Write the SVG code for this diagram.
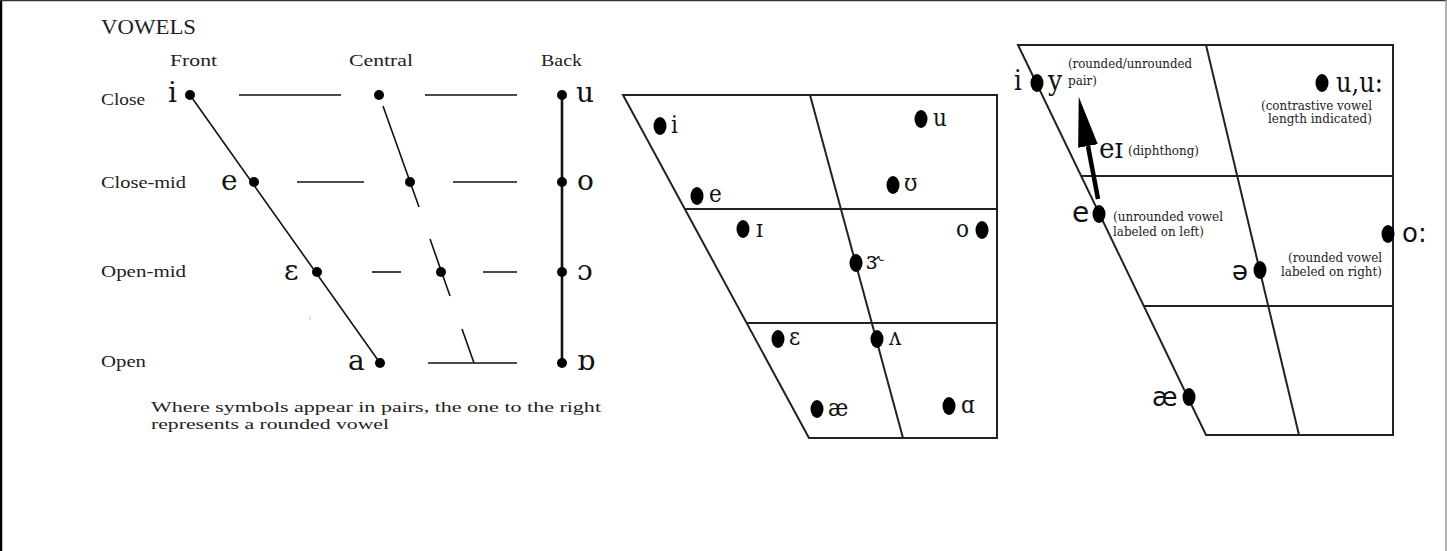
<svg xmlns="http://www.w3.org/2000/svg" width="1447" height="551" viewBox="0 0 1447 551">
<style>
.bg{fill:#fff}
.ln{stroke:#111;stroke-width:1.6;fill:none}
.lnb{stroke:#111;stroke-width:2.6;fill:none}
.tr{stroke:#222;stroke-width:2;fill:none}
.dot{fill:#000}
.lt{font-family:"Liberation Serif",serif;fill:#222}
.ipa{font-family:"DejaVu Serif",serif;font-size:28px;fill:#111}
.mid{font-family:"DejaVu Serif Condensed","DejaVu Serif",serif;font-stretch:condensed;font-size:24px;fill:#111}
.rs{font-family:"DejaVu Serif Condensed","DejaVu Serif",serif;font-stretch:condensed;fill:#111}
.rsans{font-family:"DejaVu Sans",sans-serif;fill:#111}
.note{font-family:"DejaVu Serif Condensed","DejaVu Serif",serif;font-stretch:condensed;font-size:13px;fill:#222}
</style>
<defs>
<marker id="ah" markerUnits="userSpaceOnUse" markerWidth="50" markerHeight="20" refX="0" refY="10" orient="auto">
<path d="M0,0 L50,10 L0,20 Z" fill="#000"/>
</marker>
</defs>
<rect class="bg" x="0" y="0" width="1447" height="551"/>
<g id="frame">
<line x1="1" y1="0" x2="1" y2="551" stroke="#000" stroke-width="2.5"/>
<line x1="0" y1="0.5" x2="1447" y2="0.5" stroke="#333" stroke-width="1.5"/>
<line x1="1446" y1="0" x2="1446" y2="551" stroke="#999" stroke-width="1.5"/>
</g>

<!-- LEFT PANEL -->
<g id="left-titles">
<text class="lt" x="101" y="34" font-size="22" textLength="95" lengthAdjust="spacingAndGlyphs">VOWELS</text>
<text class="lt" x="170" y="66" font-size="17" textLength="47" lengthAdjust="spacingAndGlyphs">Front</text>
<text class="lt" x="349" y="66" font-size="17" textLength="64" lengthAdjust="spacingAndGlyphs">Central</text>
<text class="lt" x="541" y="66" font-size="17" textLength="41" lengthAdjust="spacingAndGlyphs">Back</text>
<text class="lt" x="101" y="105" font-size="16" textLength="44" lengthAdjust="spacingAndGlyphs">Close</text>
<text class="lt" x="101" y="188" font-size="16" textLength="85" lengthAdjust="spacingAndGlyphs">Close-mid</text>
<text class="lt" x="101" y="277" font-size="16" textLength="85" lengthAdjust="spacingAndGlyphs">Open-mid</text>
<text class="lt" x="101" y="367" font-size="16" textLength="45" lengthAdjust="spacingAndGlyphs">Open</text>
<text class="lt" x="151" y="412" font-size="15" textLength="450" lengthAdjust="spacingAndGlyphs">Where symbols appear in pairs, the one to the right</text>
<text class="lt" x="151" y="428.5" font-size="15" textLength="238" lengthAdjust="spacingAndGlyphs">represents a rounded vowel</text>
</g>
<g id="left-connectors">
<line class="ln" x1="190" y1="95" x2="380" y2="363"/>
<line class="ln" x1="383" y1="106" x2="419" y2="207"/>
<line class="ln" x1="430" y1="239" x2="450" y2="296"/>
<line class="ln" x1="462" y1="329" x2="474" y2="363"/>
<line class="lnb" x1="562" y1="95" x2="562" y2="363"/>
<line class="ln" x1="239" y1="95" x2="341" y2="95"/>
<line class="ln" x1="425" y1="95" x2="517" y2="95"/>
<line class="ln" x1="297" y1="182" x2="364" y2="182"/>
<line class="ln" x1="453" y1="182" x2="517" y2="182"/>
<line class="ln" x1="372" y1="272" x2="401" y2="272"/>
<line class="ln" x1="483" y1="272" x2="517" y2="272"/>
<line class="ln" x1="428" y1="363" x2="517" y2="363"/>
<line x1="310" y1="315" x2="310" y2="320" stroke="#ccc" stroke-width="1"/>
</g>
<g id="left-i"><circle class="dot" cx="190" cy="95" r="5"/><text class="ipa" x="168" y="102">i</text></g>
<g id="left-e"><circle class="dot" cx="254" cy="182" r="5"/><text class="ipa" x="221" y="190">e</text></g>
<g id="left-eps"><circle class="dot" cx="317" cy="272" r="5"/><text class="ipa" x="284" y="280">ɛ</text></g>
<g id="left-a"><circle class="dot" cx="380" cy="363" r="5"/><text class="ipa" x="348" y="370">a</text></g>
<g id="left-c1"><circle class="dot" cx="379" cy="95" r="5"/></g>
<g id="left-c2"><circle class="dot" cx="410" cy="182" r="5"/></g>
<g id="left-c3"><circle class="dot" cx="441" cy="272" r="5"/></g>
<g id="left-u"><circle class="dot" cx="562" cy="95" r="5"/><text class="ipa" x="576" y="102">u</text></g>
<g id="left-o"><circle class="dot" cx="562" cy="182" r="5"/><text class="ipa" x="577" y="190">o</text></g>
<g id="left-oo"><circle class="dot" cx="562" cy="272" r="5"/><text class="ipa" x="577" y="280">ɔ</text></g>
<g id="left-ao"><circle class="dot" cx="562" cy="363" r="5"/><text class="ipa" x="577" y="370">ɒ</text></g>

<!-- MIDDLE PANEL -->
<g id="mid-chart">
<polygon class="tr" points="623,95 997,95 997,438 809,438"/>
<line class="tr" x1="685" y1="209" x2="997" y2="209"/>
<line class="tr" x1="747" y1="323" x2="997" y2="323"/>
<line class="tr" x1="810" y1="95" x2="903" y2="438"/>
</g>
<g id="mid-i"><ellipse class="dot" cx="660" cy="126" rx="6.5" ry="9"/><text class="mid" x="671" y="133">i</text></g>
<g id="mid-u"><ellipse class="dot" cx="921" cy="119" rx="6.5" ry="9"/><text class="mid" x="933" y="126">u</text></g>
<g id="mid-e"><ellipse class="dot" cx="697" cy="196" rx="6.5" ry="9"/><text class="mid" x="709" y="202">e</text></g>
<g id="mid-upsilon"><ellipse class="dot" cx="893" cy="185" rx="6.5" ry="9"/><text class="mid" x="904" y="191">ʊ</text></g>
<g id="mid-smallI"><ellipse class="dot" cx="743" cy="229" rx="6.5" ry="9"/><text class="mid" x="756" y="237">ɪ</text></g>
<g id="mid-o"><ellipse class="dot" cx="982" cy="230" rx="6.5" ry="9"/><text class="mid" x="956" y="237">o</text></g>
<g id="mid-er"><ellipse class="dot" cx="856" cy="263" rx="6.5" ry="9"/><text class="mid" x="866" y="269" font-size="17">ɝ</text></g>
<g id="mid-eps"><ellipse class="dot" cx="778" cy="339" rx="6.5" ry="9"/><text class="mid" x="789" y="345">ɛ</text></g>
<g id="mid-wedge"><ellipse class="dot" cx="877" cy="339" rx="6.5" ry="9"/><text class="mid" x="889" y="345" font-size="20">ʌ</text></g>
<g id="mid-ae"><ellipse class="dot" cx="817" cy="409" rx="6.5" ry="9"/><text class="mid" x="828" y="416">æ</text></g>
<g id="mid-alpha"><ellipse class="dot" cx="949" cy="406" rx="6.5" ry="9"/><text class="mid" x="961" y="413">ɑ</text></g>

<!-- RIGHT PANEL -->
<g id="right-chart">
<polygon class="tr" points="1018,45 1393,45 1393,435 1206,435"/>
<line class="tr" x1="1081" y1="176" x2="1393" y2="176"/>
<line class="tr" x1="1144" y1="306" x2="1393" y2="306"/>
<line class="tr" x1="1206" y1="45" x2="1299" y2="435"/>
</g>
<g id="connectors">
<line x1="1098" y1="199" x2="1088" y2="146" stroke="#000" stroke-width="4.5" marker-end="url(#ah)"/>
</g>
<g id="right-iy"><ellipse class="dot" cx="1037" cy="83" rx="6.5" ry="9"/>
<text class="rs" x="1014" y="90" font-size="27">i</text>
<text class="rs" x="1048" y="90" font-size="28">y</text>
<text class="note" x="1068" y="68" textLength="124" lengthAdjust="spacingAndGlyphs">(rounded/unrounded</text>
<text class="note" x="1068" y="85" textLength="29" lengthAdjust="spacingAndGlyphs">pair)</text>
</g>
<g id="right-u"><ellipse class="dot" cx="1322" cy="83" rx="6.5" ry="9"/>
<text class="rs" x="1336" y="92" font-size="27" textLength="47" lengthAdjust="spacingAndGlyphs">u,u:</text>
<text class="note" x="1261" y="110" textLength="111" lengthAdjust="spacingAndGlyphs">(contrastive vowel</text>
<text class="note" x="1268" y="123" textLength="104" lengthAdjust="spacingAndGlyphs">length indicated)</text>
</g>
<g id="right-ei">
<text class="rs" x="1099" y="158" font-size="27" textLength="24" lengthAdjust="spacingAndGlyphs">eɪ</text>
<text class="note" x="1128" y="155" textLength="71" lengthAdjust="spacingAndGlyphs">(diphthong)</text>
</g>
<g id="right-e"><ellipse class="dot" cx="1099" cy="214" rx="6.5" ry="9"/>
<text class="rsans" x="1072" y="222" font-size="28">e</text>
<text class="note" x="1113" y="221" textLength="110" lengthAdjust="spacingAndGlyphs">(unrounded vowel</text>
<text class="note" x="1113" y="236" textLength="91" lengthAdjust="spacingAndGlyphs">labeled on left)</text>
</g>
<g id="right-o"><ellipse class="dot" cx="1388" cy="234" rx="6.5" ry="9"/>
<text class="rsans" x="1402" y="242" font-size="26">o:</text>
</g>
<g id="right-schwa"><ellipse class="dot" cx="1260" cy="270" rx="6.5" ry="9"/>
<text class="rsans" x="1232" y="280" font-size="26">ə</text>
<text class="note" x="1288" y="262" textLength="94" lengthAdjust="spacingAndGlyphs">(rounded vowel</text>
<text class="note" x="1281" y="276" textLength="101" lengthAdjust="spacingAndGlyphs">labeled on right)</text>
</g>
<g id="right-ae"><ellipse class="dot" cx="1189" cy="397" rx="6.5" ry="9"/>
<text class="rsans" x="1152" y="406" font-size="26">æ</text>
</g>
</svg>
